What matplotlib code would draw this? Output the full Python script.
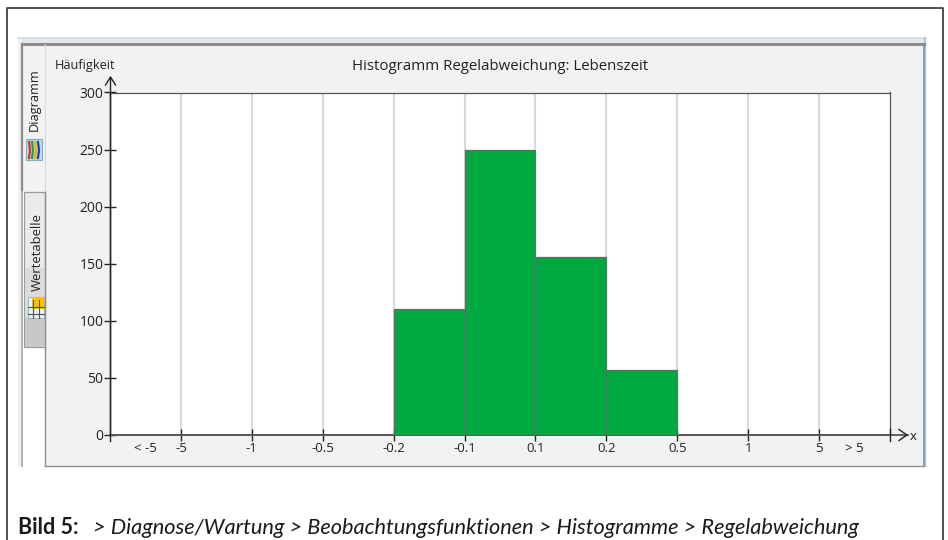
import matplotlib
matplotlib.use('Agg')
import matplotlib.pyplot as plt
from matplotlib.patches import Rectangle
from matplotlib.lines import Line2D

W, H = 948, 540

# Histogram values per bin
edge_labels = ['-5', '-1', '-0.5', '-0.2', '-0.1', '0.1', '0.2', '0.5', '1', '5']
counts = [0, 0, 0, 0, 110, 250, 156, 57, 0, 0, 0]
y_ticks = [0, 50, 100, 150, 200, 250, 300]

plt.rcParams['font.family'] = ['Open Sans', 'DejaVu Sans']

fig = plt.figure(figsize=(W / 100, H / 100), dpi=100, facecolor='white')

# full-figure overlay in pixel coords for the screenshot chrome
bg = fig.add_axes([0, 0, 1, 1], zorder=0)
bg.set_xlim(0, W)
bg.set_ylim(H, 0)
bg.axis('off')


def box(x0, y0, x1, y1, fc='none', ec='none', lw=1.0):
    bg.add_patch(Rectangle((x0, y0), x1 - x0, y1 - y0, facecolor=fc, edgecolor=ec, linewidth=lw))


def line(xs, ys, color='#222222', lw=1.0):
    bg.add_line(Line2D(xs, ys, color=color, linewidth=lw))


# outer frame of the document
line([7.5, 7.5, 943.5, 943.5], [540, 8, 8, 540], '#333333', 1.2)

# window
box(18, 38, 925, 466, fc='#f2f2f2')
box(18, 38, 925, 43, fc='#e9e9e9')
line([18, 925], [38.2, 38.2], '#c4e0ee', 1.2)
line([925.5, 925.5], [38, 466], '#a4cbe6', 1.6)
box(18, 39, 22, 466, fc='#f0f0f0')
line([22.5, 22.5], [44, 192], '#8c8c8c', 1.6)
line([22.5, 22.5], [192, 466], '#b4b4b4', 1.4)
line([22, 924], [44, 44], '#8c8c8c', 2.2)
box(23, 192, 45, 466, fc='white')

# tabs, shaded from light to grey
box(24.5, 192, 45, 347, fc='#ebebeb', ec='#9c9c9c', lw=0.9)
box(25, 268, 45, 318, fc='#dcdcdc')
box(25, 318, 45, 347, fc='#c8c8c8')
line([45.5, 45.5], [44, 466], '#d8d8d8', 0.8)
line([45.5, 45.5], [192, 466], '#909090', 1.0)
line([45, 924], [465.5, 465.5], '#909090', 1.0)
line([924, 924], [44, 466], '#8c8c8c', 1.2)
bg.text(34.5, 100, 'Diagramm', rotation=90, fontsize=9.2, color='#222222', ha='center', va='center')
bg.text(37, 252, 'Wertetabelle', rotation=90, fontsize=9.4, color='#222222', ha='center', va='center')

# tab icons
box(26, 139, 42, 160, fc='#bcdce6', ec='#7fb0c0', lw=0.8)
for cx, col in zip([29, 32, 35, 38], ['#e03020', '#20a040', '#f0b000', '#2040c0']):
    line([cx, cx + 1, cx], [142, 150, 158], col, 1.6)
box(28, 297, 44, 318, fc='#e8f0f4', ec='#9fbcc8', lw=0.8)
box(32, 297, 44, 309, fc='#ffc000')
line([28, 44], [307, 307], '#555555', 0.8)
line([28, 44], [314, 314], '#555555', 0.8)
line([33, 33], [300, 318], '#555555', 0.8)
line([39, 39], [300, 318], '#555555', 0.8)

# plot area
px0, px1, py0, py1 = 110, 890, 92.5, 435
ax = fig.add_axes([px0 / W, 1 - py1 / H, (px1 - px0) / W, (py1 - py0) / H], zorder=2)
ax.set_xlim(0, len(counts))
ax.set_ylim(0, 300)
ax.set_facecolor('white')

positions = list(range(len(counts)))
ax.bar(positions, counts, width=1, align='edge', color='#00a940', edgecolor='#5f6f68', linewidth=0.9, zorder=3)

edges = list(range(1, len(counts)))
ax.set_xticks(edges)
ax.set_xticklabels(edge_labels, fontsize=9.5, color='#222222')
ax.set_yticks(y_ticks)
ax.set_yticklabels([str(v) for v in y_ticks], fontsize=10, color='#222222')
ax.grid(axis='x', color='#d9d9d9', linewidth=1.5, zorder=1)
ax.tick_params(axis='x', direction='inout', length=8, width=1, color='#222222', pad=1)
ax.tick_params(axis='y', direction='inout', length=8, width=1, color='#222222', pad=0.8)

ax.text(0.5, -12, '< -5', ha='center', va='center', fontsize=9.5, color='#222222', zorder=5, clip_on=False)
ax.text(len(counts) - 0.5, -12, '> 5', ha='center', va='center', fontsize=9.5, color='#222222', zorder=5, clip_on=False)

for side in ['top', 'right']:
    ax.spines[side].set_color('#555555')
    ax.spines[side].set_linewidth(0.9)
ax.spines['left'].set_color('#222222')
ax.spines['left'].set_linewidth(1.0)
ax.spines['bottom'].set_color('#555555')
ax.spines['bottom'].set_linewidth(1.4)

# axis overlay above the plot
top = fig.add_axes([0, 0, 1, 1], zorder=3)
top.set_xlim(0, W)
top.set_ylim(H, 0)
top.axis('off')
top.patch.set_alpha(0)
top.add_line(Line2D([110.5, 110.5], [78, 441], color='#222222', linewidth=1.0))
top.add_line(Line2D([105.5, 110.5, 115.5], [85, 77, 85], color='#222222', linewidth=1.0))
top.add_line(Line2D([890, 908], [435, 435], color='#555555', linewidth=1.3))
top.add_line(Line2D([899, 907, 899], [429.5, 435, 440.5], color='#222222', linewidth=1.0))
top.add_line(Line2D([890.5, 890.5], [429, 441], color='#222222', linewidth=1.0))

top.text(85.5, 65, 'Häufigkeit', fontsize=9.2, color='#222222', ha='center', va='center')
top.text(913, 436, 'x', fontsize=9.5, color='#222222', ha='center', va='center')
top.text(500.5, 66.5, 'Histogramm Regelabweichung: Lebenszeit', fontsize=10.8, color='#222222', ha='center', va='center')

# caption below the window
top.text(18, 528, 'Bild 5:', fontsize=15.5, fontweight='bold', family='Lato', color='#1a1a1a', ha='left', va='center')
top.text(93, 528, '> Diagnose/Wartung > Beobachtungsfunktionen > Histogramme > Regelabweichung',
         fontsize=15.7, fontstyle='italic', family='Lato', color='#1a1a1a', ha='left', va='center')

fig.savefig('out.png', dpi=100)
